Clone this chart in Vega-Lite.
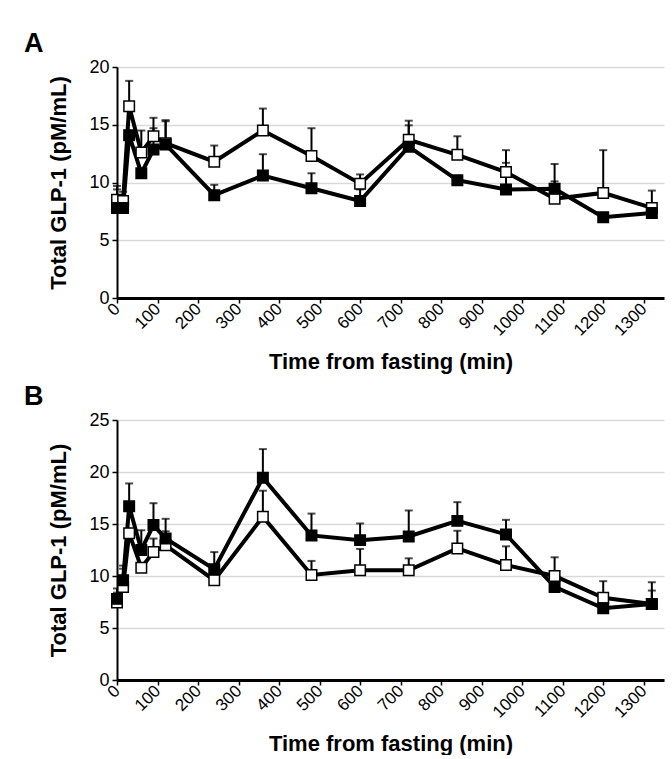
{
  "$schema": "https://vega.github.io/schema/vega-lite/v6.json",
  "padding": {"left": 24, "top": 30, "right": 5, "bottom": 0},
  "spacing": 10,
  "data": {"values": [
    {"panel": "A", "t": 0, "group": "open", "value": 8.5, "upper": 9.7},
    {"panel": "A", "t": 15, "group": "open", "value": 8.4, "upper": 9.2},
    {"panel": "A", "t": 30, "group": "open", "value": 16.6, "upper": 18.8},
    {"panel": "A", "t": 60, "group": "open", "value": 12.6, "upper": 14.5},
    {"panel": "A", "t": 90, "group": "open", "value": 14.0, "upper": 15.6},
    {"panel": "A", "t": 120, "group": "open", "value": 13.4, "upper": 15.4},
    {"panel": "A", "t": 240, "group": "open", "value": 11.8, "upper": 13.2},
    {"panel": "A", "t": 360, "group": "open", "value": 14.5, "upper": 16.4},
    {"panel": "A", "t": 480, "group": "open", "value": 12.3, "upper": 14.7},
    {"panel": "A", "t": 600, "group": "open", "value": 9.9, "upper": 10.7},
    {"panel": "A", "t": 720, "group": "open", "value": 13.7, "upper": 15.35},
    {"panel": "A", "t": 840, "group": "open", "value": 12.4, "upper": 14.0},
    {"panel": "A", "t": 960, "group": "open", "value": 10.9, "upper": 12.8},
    {"panel": "A", "t": 1080, "group": "open", "value": 8.6, "upper": 11.6},
    {"panel": "A", "t": 1200, "group": "open", "value": 9.1, "upper": 12.8},
    {"panel": "A", "t": 1320, "group": "open", "value": 7.8, "upper": 9.3},
    {"panel": "A", "t": 0, "group": "filled", "value": 7.8, "upper": 9.4},
    {"panel": "A", "t": 15, "group": "filled", "value": 7.8, "upper": null},
    {"panel": "A", "t": 30, "group": "filled", "value": 14.1, "upper": null},
    {"panel": "A", "t": 60, "group": "filled", "value": 10.8, "upper": null},
    {"panel": "A", "t": 90, "group": "filled", "value": 12.85, "upper": 14.7},
    {"panel": "A", "t": 120, "group": "filled", "value": 13.3, "upper": 15.3},
    {"panel": "A", "t": 240, "group": "filled", "value": 8.9, "upper": 9.8},
    {"panel": "A", "t": 360, "group": "filled", "value": 10.6, "upper": 12.45},
    {"panel": "A", "t": 480, "group": "filled", "value": 9.5, "upper": 10.8},
    {"panel": "A", "t": 600, "group": "filled", "value": 8.4, "upper": 9.4},
    {"panel": "A", "t": 720, "group": "filled", "value": 13.1, "upper": 14.95},
    {"panel": "A", "t": 840, "group": "filled", "value": 10.2, "upper": null},
    {"panel": "A", "t": 960, "group": "filled", "value": 9.4, "upper": 11.7},
    {"panel": "A", "t": 1080, "group": "filled", "value": 9.45, "upper": 10.1},
    {"panel": "A", "t": 1200, "group": "filled", "value": 7.0, "upper": null},
    {"panel": "A", "t": 1320, "group": "filled", "value": 7.35, "upper": null},
    {"panel": "B", "t": 0, "group": "open", "value": 7.45, "upper": 8.4},
    {"panel": "B", "t": 15, "group": "open", "value": 8.95, "upper": 10.7},
    {"panel": "B", "t": 30, "group": "open", "value": 14.1, "upper": null},
    {"panel": "B", "t": 60, "group": "open", "value": 10.8, "upper": null},
    {"panel": "B", "t": 90, "group": "open", "value": 12.3, "upper": 13.6},
    {"panel": "B", "t": 120, "group": "open", "value": 12.95, "upper": 14.3},
    {"panel": "B", "t": 240, "group": "open", "value": 9.6, "upper": null},
    {"panel": "B", "t": 360, "group": "open", "value": 15.7, "upper": 18.2},
    {"panel": "B", "t": 480, "group": "open", "value": 10.1, "upper": 11.45},
    {"panel": "B", "t": 600, "group": "open", "value": 10.55, "upper": 12.6},
    {"panel": "B", "t": 720, "group": "open", "value": 10.55, "upper": 11.7},
    {"panel": "B", "t": 840, "group": "open", "value": 12.65, "upper": 14.35},
    {"panel": "B", "t": 960, "group": "open", "value": 11.05, "upper": 12.85},
    {"panel": "B", "t": 1080, "group": "open", "value": 10.0, "upper": 11.8},
    {"panel": "B", "t": 1200, "group": "open", "value": 7.9, "upper": 9.5},
    {"panel": "B", "t": 1320, "group": "open", "value": 7.3, "upper": 9.4},
    {"panel": "B", "t": 0, "group": "filled", "value": 7.8, "upper": 8.8},
    {"panel": "B", "t": 15, "group": "filled", "value": 9.6, "upper": 11.0},
    {"panel": "B", "t": 30, "group": "filled", "value": 16.7, "upper": 18.9},
    {"panel": "B", "t": 60, "group": "filled", "value": 12.5, "upper": 14.4},
    {"panel": "B", "t": 90, "group": "filled", "value": 14.9, "upper": 17.0},
    {"panel": "B", "t": 120, "group": "filled", "value": 13.6, "upper": 15.5},
    {"panel": "B", "t": 240, "group": "filled", "value": 10.65, "upper": 12.3},
    {"panel": "B", "t": 360, "group": "filled", "value": 19.45, "upper": 22.2},
    {"panel": "B", "t": 480, "group": "filled", "value": 13.9, "upper": 16.0},
    {"panel": "B", "t": 600, "group": "filled", "value": 13.45, "upper": 15.05},
    {"panel": "B", "t": 720, "group": "filled", "value": 13.8, "upper": 16.3},
    {"panel": "B", "t": 840, "group": "filled", "value": 15.3, "upper": 17.1},
    {"panel": "B", "t": 960, "group": "filled", "value": 14.0, "upper": 15.4},
    {"panel": "B", "t": 1080, "group": "filled", "value": 8.95, "upper": null},
    {"panel": "B", "t": 1200, "group": "filled", "value": 6.9, "upper": null},
    {"panel": "B", "t": 1320, "group": "filled", "value": 7.3, "upper": 8.6}
  ]},
  "vconcat": [
    {
      "width": 547,
      "height": 231,
      "title": {"text": "A", "anchor": "start", "frame": "group", "dx": -93, "offset": 0},
      "transform": [{"filter": "datum.panel === 'A'"}],
      "encoding": {
        "x": {"field": "t", "type": "quantitative", "title": "Time from fasting (min)",
              "scale": {"domain": [0, 1350], "nice": false},
              "axis": {"values": [0, 100, 200, 300, 400, 500, 600, 700, 800, 900, 1000, 1100, 1200, 1300]}},
        "y": {"field": "value", "type": "quantitative", "title": "Total GLP-1 (pM/mL)",
              "scale": {"domain": [0, 20], "nice": false},
              "axis": {"values": [0, 5, 10, 15, 20]}}
      },
      "layer": [
        {"transform": [{"filter": "isValid(datum.upper)"}],
         "mark": {"type": "rule", "color": "black", "strokeWidth": 2},
         "encoding": {"y2": {"field": "upper"}}},
        {"transform": [{"filter": "isValid(datum.upper)"}],
         "mark": {"type": "tick", "orient": "horizontal", "color": "black", "thickness": 2, "size": 8},
         "encoding": {"y": {"field": "upper", "type": "quantitative", "title": "Total GLP-1 (pM/mL)"}}},
        {"mark": {"type": "line", "color": "black", "strokeWidth": 4},
         "encoding": {"detail": {"field": "group"}}},
        {"mark": {"type": "point", "shape": "square", "size": 110, "filled": true, "stroke": "black", "strokeWidth": 1.5, "opacity": 1},
         "encoding": {"fill": {"field": "group", "type": "nominal", "scale": {"domain": ["filled", "open"], "range": ["black", "white"]}, "legend": null}}}
      ]
    },
    {
      "width": 547,
      "height": 260,
      "title": {"text": "B", "anchor": "start", "frame": "group", "dx": -93, "offset": 0},
      "transform": [{"filter": "datum.panel === 'B'"}],
      "encoding": {
        "x": {"field": "t", "type": "quantitative", "title": "Time from fasting (min)",
              "scale": {"domain": [0, 1350], "nice": false},
              "axis": {"values": [0, 100, 200, 300, 400, 500, 600, 700, 800, 900, 1000, 1100, 1200, 1300]}},
        "y": {"field": "value", "type": "quantitative", "title": "Total GLP-1 (pM/mL)",
              "scale": {"domain": [0, 25], "nice": false},
              "axis": {"values": [0, 5, 10, 15, 20, 25]}}
      },
      "layer": [
        {"transform": [{"filter": "isValid(datum.upper)"}],
         "mark": {"type": "rule", "color": "black", "strokeWidth": 2},
         "encoding": {"y2": {"field": "upper"}}},
        {"transform": [{"filter": "isValid(datum.upper)"}],
         "mark": {"type": "tick", "orient": "horizontal", "color": "black", "thickness": 2, "size": 8},
         "encoding": {"y": {"field": "upper", "type": "quantitative", "title": "Total GLP-1 (pM/mL)"}}},
        {"mark": {"type": "line", "color": "black", "strokeWidth": 4},
         "encoding": {"detail": {"field": "group"}}},
        {"mark": {"type": "point", "shape": "square", "size": 110, "filled": true, "stroke": "black", "strokeWidth": 1.5, "opacity": 1},
         "encoding": {"fill": {"field": "group", "type": "nominal", "scale": {"domain": ["filled", "open"], "range": ["black", "white"]}, "legend": null}}}
      ]
    }
  ],
  "config": {
    "font": "Liberation Sans",
    "view": {"stroke": null},
    "title": {"fontSize": 27, "fontWeight": "bold", "color": "black", "font": "Liberation Sans"},
    "axis": {
      "labelFont": "Liberation Sans",
      "titleFont": "Liberation Sans",
      "labelFontSize": 18,
      "labelColor": "black",
      "titleFontSize": 22,
      "titleFontWeight": "bold",
      "titleColor": "black",
      "domainColor": "black",
      "tickColor": "black",
      "tickSize": 5,
      "tickWidth": 1.5,
      "gridColor": "#d9d9d9",
      "gridWidth": 1.5,
      "labelOverlap": false,
      "labelFlush": false,
      "format": "d"
    },
    "axisX": {"grid": false, "domainWidth": 3, "labelAngle": -45, "labelAlign": "right", "labelBaseline": "middle", "labelFontSize": 17, "labelPadding": 3, "titlePadding": 13},
    "axisY": {"grid": true, "domainWidth": 2, "labelPadding": 3, "titlePadding": 18}
  }
}
